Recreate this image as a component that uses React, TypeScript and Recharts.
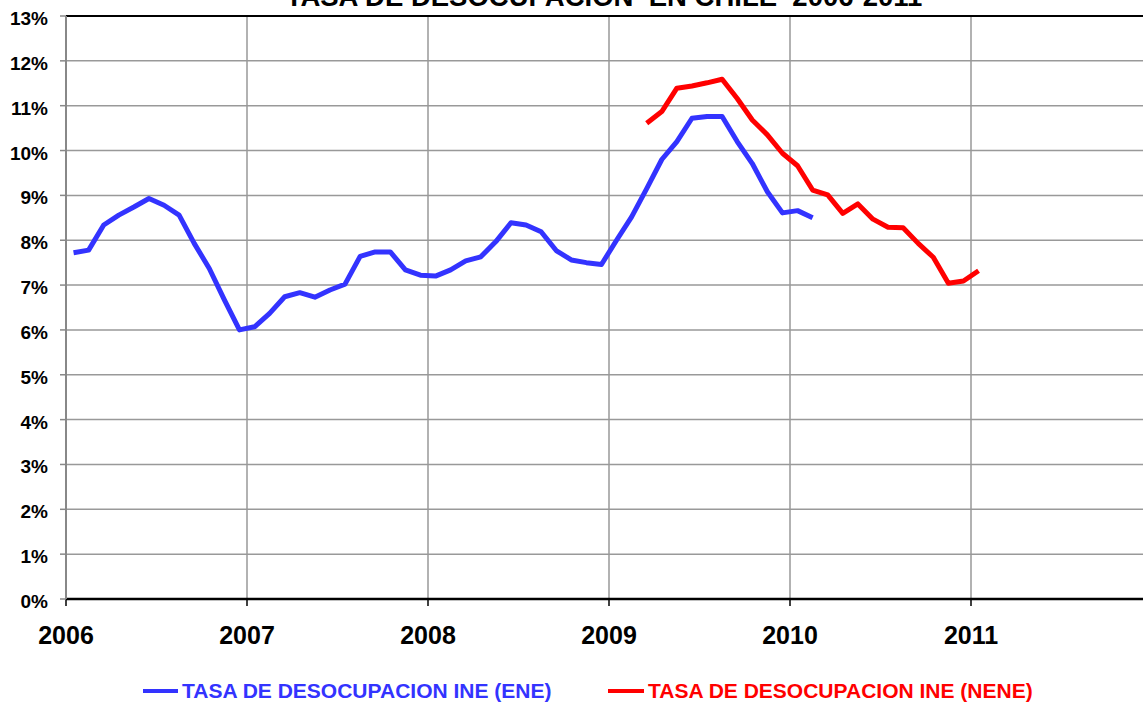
import { LineChart, Line, XAxis, YAxis, CartesianGrid, ReferenceLine } from 'recharts';

// monthly moving-quarter rates, index 0 = Jan 2006
const eneStart = 0;
const eneValues = [
  7.72, 7.78, 8.34, 8.56, 8.74, 8.93, 8.78, 8.56, 7.93, 7.37, 6.67, 6.0,
  6.07, 6.37, 6.74, 6.83, 6.73, 6.89, 7.02, 7.64, 7.74, 7.74, 7.34, 7.22,
  7.2, 7.34, 7.54, 7.63, 7.97, 8.39, 8.34, 8.19, 7.77, 7.56, 7.5, 7.46,
  8.0, 8.52, 9.15, 9.8, 10.2, 10.72, 10.76, 10.76, 10.2, 9.71, 9.08, 8.61,
  8.66, 8.5,
];

// index 38 = Mar 2009
const neneStart = 38;
const neneValues = [
  10.61, 10.87, 11.39, 11.44, 11.51, 11.59, 11.16, 10.68, 10.35, 9.94,
  9.66, 9.12, 9.01, 8.6, 8.81, 8.47, 8.29, 8.28, 7.93, 7.62, 7.04, 7.09, 7.32,
];

const yearLabels = ['2006', '2007', '2008', '2009', '2010', '2011'];
const yTicks = [0, 1, 2, 3, 4, 5, 6, 7, 8, 9, 10, 11, 12, 13];

const series = [
  { key: 'ene', name: 'TASA DE DESOCUPACION INE (ENE)', color: '#3333FF' },
  { key: 'nene', name: 'TASA DE DESOCUPACION INE (NENE)', color: '#FF0000' },
];

const monthCount = neneStart + neneValues.length;
const data = Array.from({ length: monthCount }, (_, i) => ({
  t: i + 0.5,
  ene: eneValues[i - eneStart] ?? null,
  nene: neneValues[i - neneStart] ?? null,
}));

const font = '"Liberation Sans", Arial, sans-serif';

const XTick = (props: any) => {
  const { x, y, payload } = props;
  return (
    <text x={x} y={y} dy={38} textAnchor="middle" fontFamily={font} fontWeight="bold" fontSize={25} fill="#000">
      {yearLabels[payload.value / 12]}
    </text>
  );
};

const YTick = (props: any) => {
  const { x, y, payload } = props;
  return (
    <text x={x} y={y} dy={9} textAnchor="end" fontFamily={font} fontWeight="bold" fontSize={19} fill="#000">
      {`${payload.value}%`}
    </text>
  );
};

export default function App() {
  return (
    <div
      style={{
        position: 'absolute',
        left: 0,
        top: 0,
        width: 1143,
        height: 702,
        overflow: 'hidden',
        background: '#fff',
        fontFamily: font,
      }}
    >
      {/* title sits mostly above the visible frame, as in the source image */}
      <div
        style={{
          position: 'absolute',
          left: 0,
          width: 1208,
          top: -16,
          textAlign: 'center',
          fontSize: 27.5,
          lineHeight: '26px',
          fontWeight: 'bold',
          whiteSpace: 'pre',
          color: '#000',
        }}
      >
        {'TASA DE DESOCUPACION  EN CHILE  2006-2011'}
      </div>

      <LineChart width={1160} height={702} data={data} margin={{ top: 16, right: 8, left: 0, bottom: 0 }}>
        <CartesianGrid stroke="#999" strokeWidth={1.5} />
        <XAxis
          type="number"
          dataKey="t"
          domain={[0, 72]}
          ticks={[0, 12, 24, 36, 48, 60]}
          allowDataOverflow
          height={103}
          tickSize={7}
          tickMargin={0}
          axisLine={{ stroke: '#000', strokeWidth: 2.5 }}
          tickLine={{ stroke: '#000', strokeWidth: 1.5 }}
          tick={XTick}
        />
        <YAxis
          domain={[0, 13]}
          ticks={yTicks}
          width={66}
          tickSize={6}
          tickMargin={12}
          axisLine={{ stroke: '#888', strokeWidth: 2 }}
          tickLine={{ stroke: '#888', strokeWidth: 1.5 }}
          tick={YTick}
        />
        <ReferenceLine y={13} stroke="#000" strokeWidth={2} />
        {series.map((s) => (
          <Line
            key={s.key}
            type="linear"
            dataKey={s.key}
            stroke={s.color}
            strokeWidth={5}
            strokeLinejoin="round"
            dot={false}
            activeDot={false}
            isAnimationActive={false}
          />
        ))}
      </LineChart>

      {series.map((s, i) => (
        <div
          key={s.key}
          style={{
            position: 'absolute',
            left: i === 0 ? 143 : 608,
            top: 679,
            display: 'flex',
            alignItems: 'center',
            color: s.color,
            fontSize: 21,
            lineHeight: '24px',
            fontWeight: 'bold',
            whiteSpace: 'nowrap',
          }}
        >
          <span style={{ display: 'inline-block', width: i === 0 ? 35 : 36, height: 4, background: s.color, marginRight: 4 }} />
          {s.name}
        </div>
      ))}
    </div>
  );
}
